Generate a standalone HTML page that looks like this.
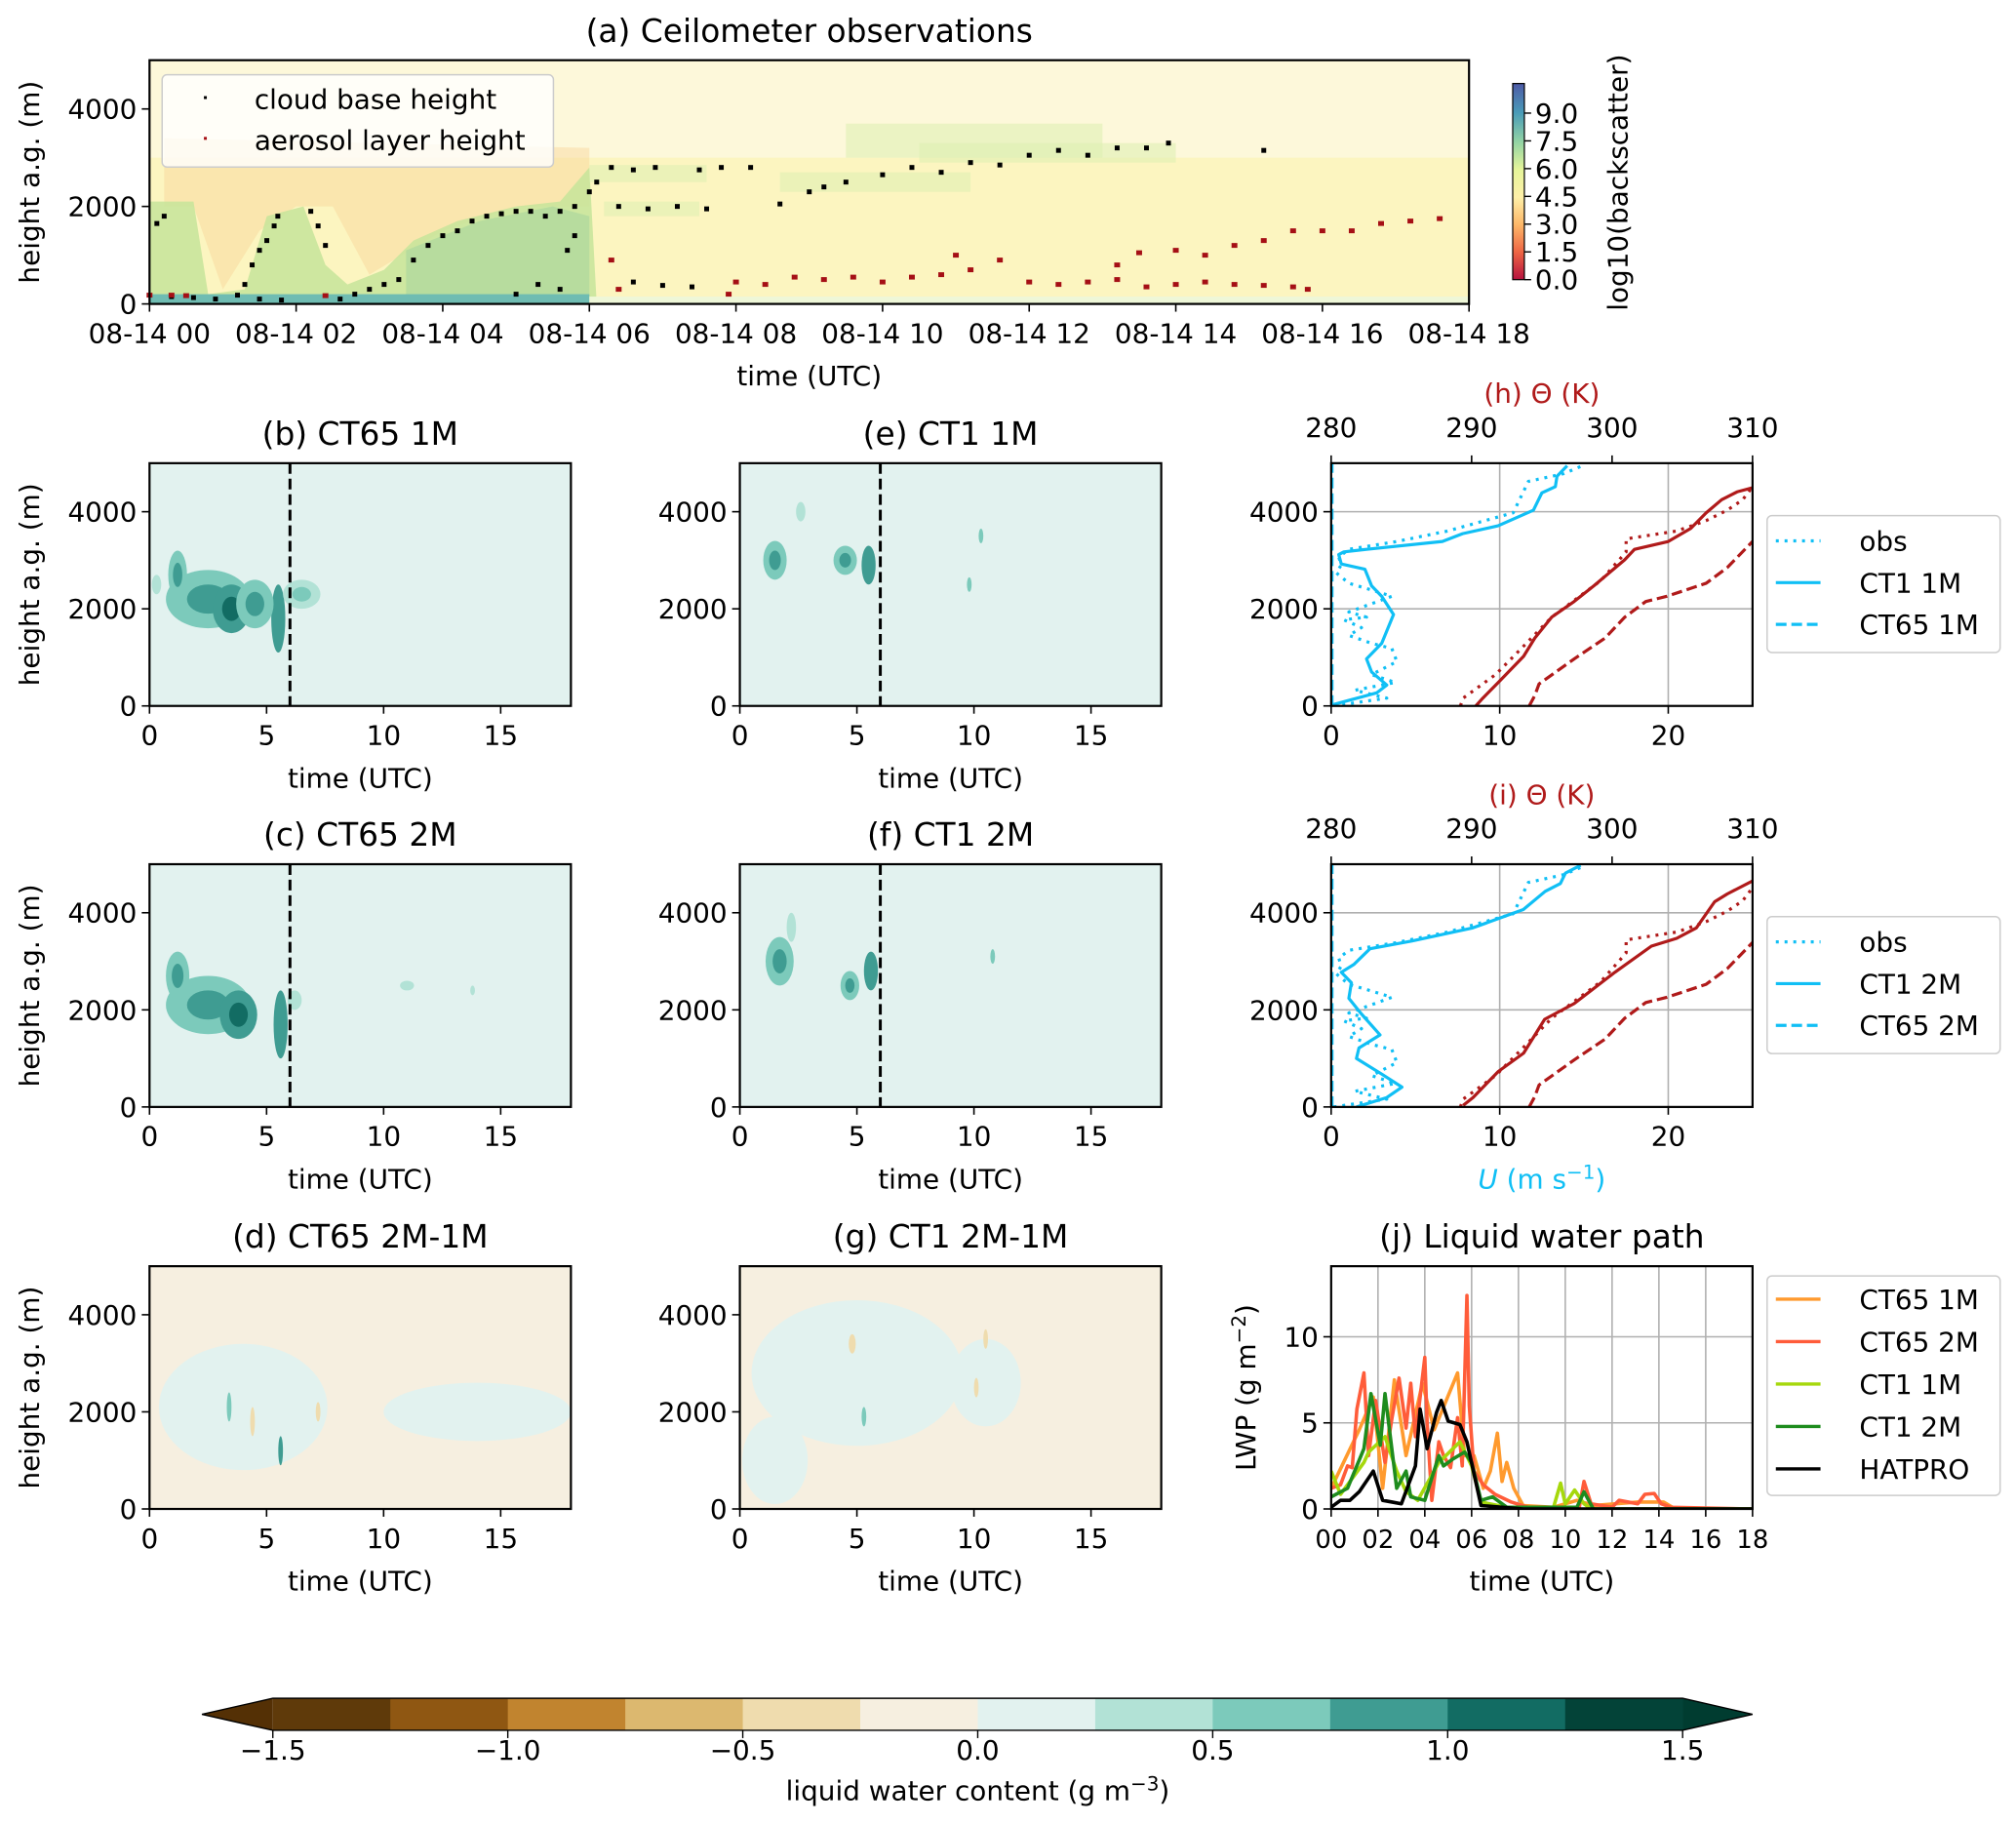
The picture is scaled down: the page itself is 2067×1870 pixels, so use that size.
<!DOCTYPE html>
<html><head><meta charset="utf-8"><style>
html,body{margin:0;padding:0;background:#fff}
svg{display:block;font-family:"DejaVu Sans","Liberation Sans",sans-serif}
</style></head><body>
<svg id="fig" width="2067" height="1870" viewBox="0 0 2067 1870" xmlns="http://www.w3.org/2000/svg">
<defs>
<linearGradient id="spec" x1="0" y1="1" x2="0" y2="0">
<stop offset="0" stop-color="#b5123f"/><stop offset="0.14" stop-color="#ee6544"/><stop offset="0.28" stop-color="#fdb768"/>
<stop offset="0.42" stop-color="#fef0a8"/><stop offset="0.56" stop-color="#e6f59a"/><stop offset="0.7" stop-color="#94d4a4"/>
<stop offset="0.85" stop-color="#4a9cb8"/><stop offset="1" stop-color="#4d5aa6"/></linearGradient>
</defs>
<g id="root" transform="scale(0.9955)"></g>
</svg>
<script>
// ---------- DATA ----------
const cbTimes=[0.1,0.2,0.3,0.6,0.9,1.2,1.5,1.8,1.3,1.4,1.5,1.6,1.7,1.75,2.2,2.3,2.4,2.6,2.8,3.0,3.2,3.4,3.6,3.8,4.0,4.2,4.4,4.6,4.8,5.0,5.2,5.4,5.6,5.8,5.3,5.6,5.7,5.8,6.0,6.1,6.3,6.6,6.9,6.4,6.8,7.2,7.6,7.5,7.8,8.2,8.6,9.0,9.2,9.5,10.0,10.4,10.8,11.2,11.6,12.0,12.4,12.8,13.2,13.6,13.9,15.2,5.0,6.6,7.0,7.4];
const cbHeights=[1650,1800,150,130,100,180,100,80,400,800,1100,1300,1600,1800,1900,1600,1200,100,200,300,400,500,900,1200,1400,1500,1700,1800,1850,1900,1900,1800,1900,2000,400,300,1100,1400,2300,2500,2800,2750,2800,2000,1950,2000,1950,2750,2800,2800,2050,2300,2400,2500,2650,2800,2700,2900,2850,3050,3150,3050,3200,3200,3300,3150,200,450,380,350];
const alTimes=[0,0.3,0.5,2.4,6.3,6.4,7.9,8.0,8.4,8.8,9.2,9.6,10.0,10.4,10.8,11.2,11.6,11.0,12.0,12.4,12.8,13.2,13.6,14.0,14.4,14.8,15.2,15.6,15.8,14.0,14.4,14.8,15.2,15.6,16.0,16.4,16.8,17.2,17.6,13.5,13.2];
const alHeights=[180,180,170,170,900,300,200,450,400,550,500,550,450,550,600,700,900,1000,450,400,450,500,350,400,450,400,380,350,300,1100,1000,1200,1300,1500,1500,1500,1650,1700,1750,1050,800];
const uObsH=[0,161,323,484,645,914,1183,1290,1452,1613,1774,1828,1935,2258,2366,2527,2742,2903,3065,3226,3387,3602,3978,4409,4624,4785,4946];
const uObsV=[0.15,3.3,1.4,3.8,2.4,3.9,3.6,2.4,1.05,1.8,0.75,2.1,1.05,3.6,2.6,1.05,0.3,0.6,0.45,1.05,3.9,6.9,10.8,11.4,11.7,13.8,14.9];
const uCT1_1MH=[22,129,269,430,699,968,1290,1882,2258,2473,2817,2925,3118,3172,3226,3387,3548,3710,4032,4387,4516,4731,4946];
const uCT1_1MV=[0.06,1.2,2.7,3.3,2.4,2.1,3.0,3.7,3.0,2.4,2.0,0.6,0.45,0.75,2.1,6.6,7.8,9.9,12.0,12.5,13.3,13.4,14.0];
const uCT1_2MH=[0,194,409,677,1000,1215,1484,1914,2237,2559,2774,2935,3258,3419,3688,4065,4441,4602,4817,4978];
const uCT1_2MV=[1.5,3.3,4.2,3.0,1.5,1.65,2.9,1.8,1.05,1.2,0.6,1.35,2.3,4.8,8.4,11.4,12.7,13.6,13.9,14.8];
const uCT65H=[0,5000];
const uCT65V=[0.05,0.05];
const thObsH=[0,161,645,1290,1828,2581,3172,3441,3602,3817,4032,4247,4516];
const thObsV=[289.2,289.4,291.7,293.9,295.7,299.2,301.0,301.0,304.6,306.7,308.2,309.3,310];
const thCT1_1MH=[0,161,484,1022,1398,1828,2151,2473,3011,3226,3387,3656,3978,4247,4409,4495];
const thCT1_1MV=[290.3,290.8,291.9,293.7,294.5,295.7,297.3,298.7,300.9,301.6,304.0,305.6,306.7,307.8,308.9,310.0];
const thCT1_2MH=[32,194,731,1107,1806,2129,2774,3312,3473,3688,4226,4387,4656];
const thCT1_2MV=[289.4,290.1,291.9,293.7,295.2,297.3,300.2,302.8,304.6,306.0,307.3,308.2,310];
const thCT65H=[0,215,452,968,1398,1828,2151,2258,2527,2849,3387];
const thCT65V=[294.1,294.5,294.8,297.3,299.5,300.9,302.4,303.9,306.7,308.2,310];
const lwpHatT=[0,0.4,0.8,1.2,1.8,2.2,2.6,3.0,3.6,3.8,4.1,4.5,4.7,5.0,5.5,5.8,6.4,8.2,18];
const lwpHatV=[0.1,0.5,0.5,1.0,2.2,0.5,0.4,0.3,2.5,5.8,3.5,5.6,6.3,5.1,4.9,3.9,0.2,0,0];
const lwpCT1_2MT=[0,0.7,1.4,1.7,2.1,2.3,2.8,3.2,3.4,4.0,4.6,4.8,5.2,5.7,6.0,6.4,6.9,7.5,10.5,10.8,11.2,18];
const lwpCT1_2MV=[0.7,1.2,3.5,6.7,3.7,6.7,1.2,2.2,0.7,0.5,3.1,2.5,2.9,3.3,2.7,0.5,0.7,0.1,0.1,1.0,0,0];
const lwpCT1_1MT=[0,0.4,1.4,1.6,2.3,2.8,3.2,3.7,4.6,5.5,6.0,6.4,7.5,9.5,9.8,10.0,10.4,10.8,11.1,18];
const lwpCT1_1MV=[2.2,0.85,2.7,3.3,4.2,2.2,1.0,0.5,2.7,3.9,2.5,0.4,0.1,0.1,1.5,0.3,1.1,0.3,0,0];
const lwpCT65_2MT=[0,0.4,0.7,0.9,1.1,1.4,1.6,1.9,2.3,2.6,2.9,3.2,3.4,3.6,4.0,4.1,4.3,4.6,4.8,5.1,5.4,5.6,5.8,5.9,6.1,6.5,7.0,7.7,8.4,10.6,10.8,11.1,12.0,12.3,13.1,13.4,13.8,14.1,14.5,18];
const lwpCT65_2MV=[1.2,1.4,2.5,2.4,5.8,7.9,3.1,6.3,2.7,5.3,7.6,4.7,7.3,4.2,8.8,5.0,0.5,3.9,3.1,2.4,5.3,2.5,12.4,6.0,2.2,1.4,0.85,0.4,0.1,0.1,1.6,0.3,0.1,0.5,0.3,0.85,0.9,0.3,0.1,0];
const lwpCT65_1MT=[0,1.2,1.8,2.2,2.7,3.2,3.9,4.4,5.4,5.7,6.1,6.5,6.8,7.1,7.3,7.5,7.8,8.2,9.5,10.5,11.2,13.1,14.2,14.7,18];
const lwpCT65_1MV=[1.2,4.6,6.5,1.2,7.5,3.1,7.3,4.6,7.9,3.1,3.1,1.2,2.2,4.4,1.6,2.7,1.2,0.2,0.1,0.5,0.2,0.4,0.4,0,0];
const blobsB=[[2.5,2200,1.8,600,0.5],[3.5,2000,0.8,500,0.75],[1.2,2700,0.4,500,0.5],[5.5,1800,0.3,700,0.75],[6.5,2300,0.8,300,0.3],[4.5,2100,0.8,500,0.5],[0.3,2500,0.2,200,0.3]];
const blobsE=[[1.5,3000,0.5,400,0.5],[4.5,3000,0.5,300,0.5],[5.5,2900,0.3,400,0.75],[10.3,3500,0.1,150,0.5],[9.8,2500,0.1,150,0.5],[2.6,4000,0.2,200,0.3]];
const blobsC=[[2.5,2100,1.8,600,0.5],[3.8,1900,0.8,500,0.75],[5.6,1700,0.3,700,0.75],[6.2,2200,0.3,200,0.3],[11,2500,0.3,100,0.3],[13.8,2400,0.1,100,0.3],[1.2,2700,0.5,500,0.5]];
const blobsF=[[1.7,3000,0.6,500,0.5],[4.7,2500,0.4,300,0.5],[5.6,2800,0.3,400,0.75],[10.8,3100,0.1,150,0.5],[2.2,3700,0.2,300,0.3]];
const blobsD=[[4,2100,3.6,1300,0.1],[14,2000,4,600,0.1],[5.6,1200,0.1,300,0.8],[7.2,2000,0.1,200,-0.5],[3.4,2100,0.1,300,0.5],[4.4,1800,0.1,300,-0.5]];
const blobsG=[[5,2800,4.5,1500,0.1],[10.5,2600,1.5,900,0.1],[1.5,1000,1.4,900,0.1],[4.8,3400,0.15,200,-0.5],[10.5,3500,0.1,200,-0.5],[10.1,2500,0.1,200,-0.5],[5.3,1900,0.1,200,0.5]];
const lwcTicks=[-1.5,-1.0,-0.5,0.0,0.5,1.0,1.5];
const lwcColors=["#5f3a0a","#8f5712","#c1842f","#dcb86f","#efdcae","#f6efe0","#e2f2ef","#b2e2d6","#7ccabb","#3f9c92","#126c63","#034338"];
const bsTicks=[0.0,1.5,3.0,4.5,6.0,7.5,9.0];

const NS="http://www.w3.org/2000/svg";
const root=document.getElementById('root');
function mk(tag,attrs,parent){const e=document.createElementNS(NS,tag);for(const k in attrs)e.setAttribute(k,attrs[k]);(parent||root).appendChild(e);return e;}
function txt(s,x,y,size,anchor,fill,parent,rot){const t=mk('text',{x:x,y:y,'font-size':size,'text-anchor':anchor||'middle',fill:fill||'#000'},parent);if(rot)t.setAttribute('transform','rotate(-90 '+x+' '+y+')');t.textContent=s;return t;}
function lin(d0,d1,r0,r1){return v=>r0+(v-d0)/(d1-d0)*(r1-r0);}
function lwcColor(v){let i=Math.floor((v+1.5)/0.25);i=Math.max(0,Math.min(11,i));return lwcColors[i];}
const FT=28;
function frame(g,L,R,T,B){mk('rect',{x:L,y:T,width:R-L,height:B-T,fill:'none',stroke:'#000','stroke-width':2.2},g);}
function yTicks(g,L,y,vals){vals.forEach(v=>{mk('line',{x1:L-8,x2:L,y1:y(v),y2:y(v),stroke:'#000','stroke-width':1.6},g);txt(String(v),L-13,y(v)+10,FT,'end','#000',g);});}
function xTicks(g,B,x,vals,labels,size){vals.forEach((v,i)=>{mk('line',{x1:x(v),x2:x(v),y1:B,y2:B+8,stroke:'#000','stroke-width':1.6},g);txt(labels?labels[i]:String(v),x(v),B+40,size||FT,'middle','#000',g);});}

// ---------- Panel (a) ----------
(function(){
const L=154,R=1513,T=62,B=313;
const g=mk('g',{});


const x=lin(0,18,L,R), y=lin(0,5000,B,T);
mk('rect',{x:L,y:T,width:R-L,height:B-T,fill:'#fcf5c0'},g);
mk('rect',{x:L,y:T,width:R-L,height:y(3000)-T,fill:'#fdf8da'},g);
const orange=[[0.2,2000],[0.2,3400],[6,3200],[6,2000],[5,2000],[4,1500],[3,600],[2.5,2000],[2,2000],[1.5,1500],[1,300],[0.6,2000]];
mk('polygon',{points:orange.map(p=>x(p[0])+','+y(p[1])).join(' '),fill:'#f9d49a',opacity:0.45},g);
const green=[[0,0],[0,2100],[0.6,2100],[0.8,200],[1.3,300],[1.6,1800],[2.1,2000],[2.4,800],[2.7,400],[3.2,700],[3.6,1300],[4.2,1700],[5.0,2000],[5.6,2100],[6.0,2800],[6.1,0]];
mk('polygon',{points:green.map(p=>x(p[0])+','+y(p[1])).join(' '),fill:'#c6e49a',opacity:0.85},g);
const green2=[[3.5,0],[3.5,1100],[4.5,1700],[5.5,2000],[6,1800],[6,0]];
mk('polygon',{points:green2.map(p=>x(p[0])+','+y(p[1])).join(' '),fill:'#a8d69c',opacity:0.6},g);
const bands=[[6,7.6,2850,2500],[6.2,7.5,2100,1800],[8.6,11.2,2700,2300],[10.5,14,3300,2900],[9.5,13,3700,3000]];
bands.forEach(b=>mk('rect',{x:x(b[0]),y:y(b[2]),width:x(b[1])-x(b[0]),height:y(b[3])-y(b[2]),fill:'#dcefb0',opacity:0.55},g));
mk('rect',{x:x(0),y:y(200),width:x(6)-x(0),height:y(0)-y(200),fill:'#6fbcb2'},g);
mk('rect',{x:x(6),y:y(150),width:x(18)-x(6),height:y(0)-y(150),fill:'#eef7d8'},g);
cbTimes.forEach((t,i)=>{const c=mk('rect',{x:x(t)-2.5,y:y(cbHeights[i])-2.5,width:5,height:5,fill:'#000'},g);});
alTimes.forEach((t,i)=>{const c=mk('rect',{x:x(t)-3,y:y(alHeights[i])-2.5,width:6,height:5,fill:'#a50f15'},g);});
frame(g,L,R,T,B);
yTicks(g,L,y,[0,2000,4000]);
const hrs=[0,2,4,6,8,10,12,14,16,18];
xTicks(g,B,x,hrs,hrs.map(h=>'08-14 '+String(h).padStart(2,'0')));
txt('time (UTC)',(L+R)/2,B+84,FT,'middle','#000',g);
txt('height a.g. (m)',40,(T+B)/2,FT,'middle','#000',g,true);
txt('(a) Ceilometer observations',(L+R)/2,43,33,'middle','#000',g);
const lg=mk('g',{},g);


mk('rect',{x:167,y:77,width:403,height:95,rx:5,fill:'#fff','fill-opacity':0.8,stroke:'#ccc','stroke-width':1.5},lg);
mk('rect',{x:210,y:99,width:3,height:3,fill:'#000'},lg);
txt('cloud base height',262,112,FT,'start','#000',lg);
mk('rect',{x:210,y:141,width:3,height:3,fill:'#a50f15'},lg);
txt('aerosol layer height',262,154,FT,'start','#000',lg);
const cb=mk('g',{},g);


const cy=lin(0,10.6,288,86);
mk('rect',{x:1558,y:86,width:12,height:202,fill:'url(#spec)',stroke:'#000','stroke-width':1.2},cb);
bsTicks.forEach(v=>{mk('line',{x1:1570,x2:1577,y1:cy(v),y2:cy(v),stroke:'#000','stroke-width':1.4},cb);txt(v.toFixed(1),1581,cy(v)+10,FT,'start','#000',cb);});
txt('log10(backscatter)',1676,188,FT,'middle','#000',cb,true);
})();

function lwcPanel(name,title,L,T,blobs,bg,dash){
const R=L+434,B=T+250;
const g=mk('g',{});


const x=lin(0,18,L,R), y=lin(0,5000,B,T);
const cid='clip'+name;
const cp=mk('clipPath',{id:cid},g);mk('rect',{x:L,y:T,width:R-L,height:B-T},cp);
mk('rect',{x:L,y:T,width:R-L,height:B-T,fill:bg},g);
const cg=mk('g',{'clip-path':'url(#'+cid+')'},g);
blobs.forEach(b=>{const e=mk('ellipse',{cx:x(b[0]),cy:y(b[1]),rx:x(b[2])-x(0),ry:y(0)-y(b[3]),fill:lwcColor(b[4])},cg);


if(b[4]>=0.25&&b[2]>0.3){mk('ellipse',{cx:x(b[0]),cy:y(b[1]),rx:(x(b[2])-x(0))*0.5,ry:(y(0)-y(b[3]))*0.5,fill:lwcColor(b[4]+0.25)},cg);}});
if(dash){const d=mk('line',{x1:x(6),x2:x(6),y1:T,y2:B,stroke:'#000','stroke-width':3,'stroke-dasharray':'11,5'},g);}
frame(g,L,R,T,B);
yTicks(g,L,y,[0,2000,4000]);
xTicks(g,B,x,[0,5,10,15]);
txt('time (UTC)',(L+R)/2,B+84,FT,'middle','#000',g);
txt(title,(L+R)/2,T-19,33,'middle','#000',g);
if(L<300)txt('height a.g. (m)',40,(T+B)/2,FT,'middle','#000',g,true);
}
lwcPanel('panel-b','(b) CT65 1M',154,477,blobsB,'#e2f2ef',true);
lwcPanel('panel-e','(e) CT1 1M',762,477,blobsE,'#e2f2ef',true);
lwcPanel('panel-c','(c) CT65 2M',154,890,blobsC,'#e2f2ef',true);
lwcPanel('panel-f','(f) CT1 2M',762,890,blobsF,'#e2f2ef',true);
lwcPanel('panel-d','(d) CT65 2M-1M',154,1304,blobsD,'#f6efe0',false);
lwcPanel('panel-g','(g) CT1 2M-1M',762,1304,blobsG,'#f6efe0',false);

function profPanel(name,letter,T,uSolidH,uSolidV,thSolidH,thSolidV,lab1,lab2,legT,showU){
const L=1371,R=1805,B=T+250;
const g=mk('g',{});


const x=lin(0,25,L,R), xt=lin(280,310,L,R), y=lin(0,5000,B,T);
[10,20].forEach(v=>mk('line',{x1:x(v),x2:x(v),y1:T,y2:B,stroke:'#b0b0b0','stroke-width':1.6},g));
[2000,4000].forEach(v=>mk('line',{x1:L,x2:R,y1:y(v),y2:y(v),stroke:'#b0b0b0','stroke-width':1.6},g));
const cid='clip'+name;const cp=mk('clipPath',{id:cid},g);mk('rect',{x:L,y:T,width:R-L,height:B-T},cp);
const cg=mk('g',{'clip-path':'url(#'+cid+')'},g);
function line(H,V,fx,col,dash,nm){const p=mk('polyline',{points:H.map((h,i)=>fx(V[i])+','+y(h)).join(' '),fill:'none',stroke:col,'stroke-width':3.2,'stroke-dasharray':dash||'none','stroke-linejoin':'round'},cg);}
const blue='#10bff5',red='#b01a1a';
line(uObsH,uObsV,x,blue,'3,6','u-obs-line');
line(uSolidH,uSolidV,x,blue,null,'u-ct1-line');
line(uCT65H,uCT65V,x,blue,'11,5','u-ct65-line');
line(thObsH,thObsV,xt,red,'3,6','theta-obs-line');
line(thSolidH,thSolidV,xt,red,null,'theta-ct1-line');
line(thCT65H,thCT65V,xt,red,'11,5','theta-ct65-line');
frame(g,L,R,T,B);
yTicks(g,L,y,[0,2000,4000]);
xTicks(g,B,x,[0,10,20]);
[280,290,300,310].forEach(v=>{mk('line',{x1:xt(v),x2:xt(v),y1:T-8,y2:T,stroke:'#000','stroke-width':1.6},g);txt(String(v),xt(v),T-27,FT,'middle','#000',g);});
txt('('+letter+') \u0398 (K)',(L+R)/2,T-62,FT,'middle',red,g);
if(showU){const u=mk('text',{x:(L+R)/2,y:B+84,'font-size':FT,'text-anchor':'middle',fill:blue},g);u.innerHTML='<tspan font-style="italic">U</tspan> (m s<tspan dy="-10" font-size="20">\u22121</tspan><tspan dy="10">)</tspan>';}
const lg=mk('g',{},g);


mk('rect',{x:1820,y:legT,width:240,height:141,rx:5,fill:'#fff',stroke:'#ccc','stroke-width':1.5},lg);
[['obs','3,6'],[lab1,null],[lab2,'11,5']].forEach((e,i)=>{const yy=legT+26+i*43;mk('line',{x1:1829,x2:1875,y1:yy,y2:yy,stroke:blue,'stroke-width':3.2,'stroke-dasharray':e[1]||'none'},lg);txt(e[0],1915,yy+10,FT,'start','#000',lg);});
}
profPanel('panel-h','h',477,uCT1_1MH,uCT1_1MV,thCT1_1MH,thCT1_1MV,'CT1 1M','CT65 1M',531,false);
profPanel('panel-i','i',890,uCT1_2MH,uCT1_2MV,thCT1_2MH,thCT1_2MV,'CT1 2M','CT65 2M',944,true);

(function(){
const L=1371,R=1805,T=1304,B=1554;
const g=mk('g',{});


const x=lin(0,18,L,R), y=lin(0,14.1,B,T);
const hrs=[0,2,4,6,8,10,12,14,16,18];
hrs.forEach(v=>mk('line',{x1:x(v),x2:x(v),y1:T,y2:B,stroke:'#b0b0b0','stroke-width':1.6},g));
[5,10].forEach(v=>mk('line',{x1:L,x2:R,y1:y(v),y2:y(v),stroke:'#b0b0b0','stroke-width':1.6},g));
const cid='clipj';const cp=mk('clipPath',{id:cid},g);mk('rect',{x:L,y:T,width:R-L,height:B-T},cp);
const cg=mk('g',{'clip-path':'url(#'+cid+')'},g);
const series=[[lwpCT65_1MT,lwpCT65_1MV,'#ff9a2e','CT65 1M'],[lwpCT65_2MT,lwpCT65_2MV,'#ff5c3a','CT65 2M'],[lwpCT1_1MT,lwpCT1_1MV,'#a6d80c','CT1 1M'],[lwpCT1_2MT,lwpCT1_2MV,'#1e8c1e','CT1 2M'],[lwpHatT,lwpHatV,'#000','HATPRO']];
series.forEach(s=>{const p=mk('polyline',{points:s[0].map((t,i)=>x(t)+','+y(s[1][i])).join(' '),fill:'none',stroke:s[2],'stroke-width':3.6,'stroke-linejoin':'round'},cg);});
frame(g,L,R,T,B);
yTicks(g,L,y,[0,5,10]);
xTicks(g,B,x,hrs,hrs.map(h=>String(h).padStart(2,'0')),26);
txt('time (UTC)',(L+R)/2,B+84,FT,'middle','#000',g);
const yl=mk('text',{x:1293,y:(T+B)/2,'font-size':FT,'text-anchor':'middle',transform:'rotate(-90 1293 '+(T+B)/2+')'},g);
yl.innerHTML='LWP (g m<tspan dy="-10" font-size="20">\u22122</tspan><tspan dy="10">)</tspan>';

txt('(j) Liquid water path',(L+R)/2,T-19,33,'middle','#000',g);
const lg=mk('g',{},g);


mk('rect',{x:1820,y:1314,width:240,height:226,rx:5,fill:'#fff',stroke:'#ccc','stroke-width':1.5},lg);
series.forEach((s,i)=>{const yy=1338+i*43.7;mk('line',{x1:1829,x2:1875,y1:yy,y2:yy,stroke:s[2],'stroke-width':3.4},lg);txt(s[3],1915,yy+10,FT,'start','#000',lg);});
})();

(function(){
const g=mk('g',{});


const x0=281,x1=1733,T=1749,B=1782;
const x=lin(-1.5,1.5,x0,x1);
mk('polygon',{points:[208,(T+B)/2,x0,T,x0,B].join(' '),fill:'#543005'},g);
mk('polygon',{points:[1805,(T+B)/2,x1,T,x1,B].join(' '),fill:'#003c30'},g);
lwcColors.forEach((c,i)=>{const v=-1.5+i*0.25;mk('rect',{x:x(v),y:T,width:x(v+0.25)-x(v)+0.5,height:B-T,fill:c},g);});
mk('polygon',{points:[208,(T+B)/2,x0,T,x1,T,1805,(T+B)/2,x1,B,x0,B].join(' '),fill:'none',stroke:'#000','stroke-width':1.4},g);
lwcTicks.forEach(v=>{mk('line',{x1:x(v),x2:x(v),y1:B,y2:B+8,stroke:'#000','stroke-width':1.4},g);txt((v<0?'\u2212':'')+Math.abs(v).toFixed(1),x(v),1812,FT,'middle','#000',g);});
const l=mk('text',{x:1007,y:1854,'font-size':FT,'text-anchor':'middle'},g);
l.innerHTML='liquid water content (g m<tspan dy="-10" font-size="20">\u22123</tspan><tspan dy="10">)</tspan>';

})();
</script>
</body></html>
